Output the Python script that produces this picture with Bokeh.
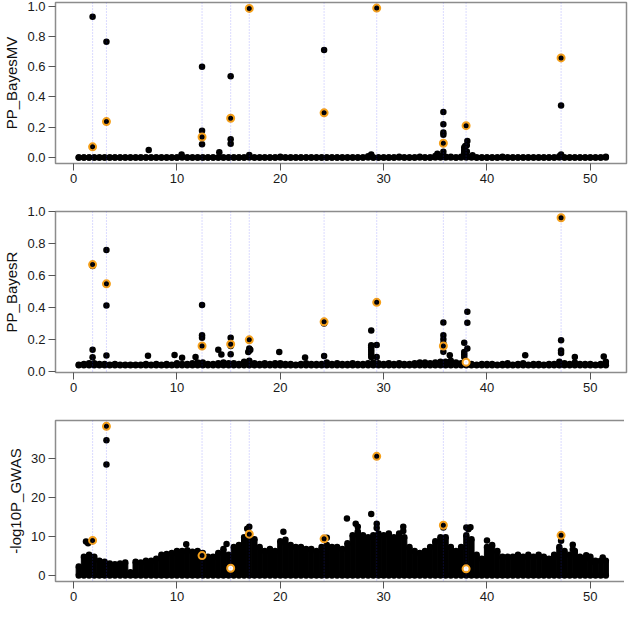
from bokeh.plotting import figure
from bokeh.layouts import column
from bokeh.models import Range1d, FixedTicker, PrintfTickFormatter, Span
from bokeh.embed import file_html
from bokeh.resources import INLINE

# ---------------- data ----------------
# positions (Mb) of highlighted loci (dotted lines)
loci = [1.84, 3.18, 12.43, 15.2, 17.0, 24.24, 29.33, 35.78, 37.98, 47.17]

# highlighted (orange) values per panel at each locus
mv_hi = [0.07, 0.237, 0.135, 0.259, 0.985, 0.295, 0.987, 0.094, 0.21, 0.658]
r_hi = [0.669, 0.548, 0.158, 0.17, 0.197, 0.31, 0.432, 0.158, 0.057, 0.963]
gwas_hi = [9.0, 38.3, 5.1, 1.85, 10.6, 9.4, 30.6, 12.9, 1.7, 10.3]
# whether the highlighted SNP is drawn filled (True) or open (False)
mv_hi_filled = [True] * 10
r_hi_filled = [True, True, True, True, True, True, True, True, False, True]
gwas_hi_filled = [True, True, True, False, True, True, True, True, False, True]

# background bins (Mb) and upper envelope of the dense SNP cloud
bins = [0.5, 1.0, 1.5, 2.0, 2.5, 3.0, 3.5, 4.0, 4.5, 5.0, 5.5, 6.0, 6.5, 7.0, 7.5,
        8.0, 8.5, 9.0, 9.5, 10.0, 10.5, 11.0, 11.5, 12.0, 12.5, 13.0, 13.5, 14.0,
        14.5, 15.0, 15.5, 16.0, 16.5, 17.0, 17.5, 18.0, 18.5, 19.0, 19.5, 20.0,
        20.5, 21.0, 21.5, 22.0, 22.5, 23.0, 23.5, 24.0, 24.5, 25.0, 25.5, 26.0,
        26.5, 27.0, 27.5, 28.0, 28.5, 29.0, 29.5, 30.0, 30.5, 31.0, 31.5, 32.0,
        32.5, 33.0, 33.5, 34.0, 34.5, 35.0, 35.5, 36.0, 36.5, 37.0, 37.5, 38.0,
        38.5, 39.0, 39.5, 40.0, 40.5, 41.0, 41.5, 42.0, 42.5, 43.0, 43.5, 44.0,
        44.5, 45.0, 45.5, 46.0, 46.5, 47.0, 47.5, 48.0, 48.5, 49.0, 49.5, 50.0,
        50.5, 51.0, 51.5]

mv_env = [0, 0, 0, 0, 0, 0, 0, 0, 0, 0, 0, 0, 0, 0, 0,
          0, 0, 0, 0, 0, 0.005, 0, 0, 0, 0, 0, 0, 0,
          0, 0, 0, 0, 0, 0.005, 0, 0, 0, 0, 0, 0.005,
          0, 0, 0, 0, 0, 0, 0, 0, 0, 0, 0, 0,
          0, 0, 0, 0, 0.008, 0, 0, 0, 0, 0, 0.005, 0,
          0, 0, 0.005, 0, 0, 0.01, 0.008, 0.005, 0.005, 0, 0.005, 0.01,
          0.008, 0, 0, 0, 0, 0, 0.005, 0, 0, 0, 0, 0,
          0, 0, 0, 0, 0, 0.008, 0, 0, 0, 0, 0, 0,
          0, 0, 0.005]

r_floor = 0.038
r_env = [0.04, 0.045, 0.05, 0.05, 0.045, 0.045, 0.04, 0.045, 0.04, 0.04, 0.04,
         0.04, 0.04, 0.045, 0.04, 0.045, 0.04, 0.045, 0.04, 0.05, 0.045, 0.045,
         0.05, 0.055, 0.055, 0.045, 0.045, 0.05, 0.055, 0.05, 0.05, 0.045, 0.06,
         0.065, 0.05, 0.045, 0.05, 0.045, 0.05, 0.05, 0.045, 0.045, 0.04, 0.045,
         0.05, 0.045, 0.045, 0.045, 0.055, 0.045, 0.05, 0.045, 0.045, 0.05,
         0.045, 0.045, 0.05, 0.055, 0.05, 0.045, 0.05, 0.045, 0.05, 0.045, 0.045,
         0.05, 0.055, 0.055, 0.05, 0.055, 0.06, 0.06, 0.065, 0.055, 0.05, 0.045,
         0.045, 0.04, 0.045, 0.045, 0.045, 0.04, 0.045, 0.05, 0.04, 0.045, 0.05,
         0.04, 0.045, 0.045, 0.04, 0.045, 0.045, 0.06, 0.05, 0.045, 0.055, 0.045,
         0.045, 0.045, 0.04, 0.045, 0.06]

gwas_env = [2.3, 4.8, 5.3, 4.8, 3.8, 3.5, 3.1, 2.9, 3.1, 3.3, 0.8, 3.5, 3.3, 3.8,
            3.8, 4.3, 5.3, 5.5, 5.8, 6.3, 6.3, 6.5, 6.1, 6.3, 5.8, 4.8, 4.8, 5.8,
            6.8, 5.3, 7.3, 7.8, 9.8, 10.8, 9.3, 7.3, 6.3, 6.8, 6.3, 8.8, 8.3, 7.8,
            7.3, 7.3, 6.8, 6.8, 6.3, 7.3, 7.8, 7.3, 7.3, 6.8, 8.3, 10.3, 11.3,
            10.3, 9.8, 10.3, 10.8, 10.3, 10.8, 9.8, 10.8, 9.8, 7.3, 6.3, 5.8, 6.3,
            7.3, 8.8, 9.8, 9.8, 7.3, 6.3, 7.3, 10.3, 9.3, 5.3, 4.3, 7.3, 7.8, 6.3,
            4.8, 4.8, 4.8, 5.3, 4.8, 5.3, 4.8, 5.3, 4.8, 4.3, 5.3, 7.3, 6.3, 5.3,
            6.3, 4.8, 4.3, 4.8, 3.8, 3.8, 3.8]

# individual SNPs standing out of the cloud
mv_x = [1.84, 3.18, 7.27, 10.45, 12.43, 12.43, 12.43, 14.1, 15.2, 15.2, 15.2,
        17.0, 24.24, 28.8, 35.2, 35.78, 35.78, 35.78, 35.78, 35.78, 37.8, 37.8,
        37.8, 37.8, 37.9, 37.9, 38.05, 38.05, 38.1, 38.6, 47.17, 47.17]
mv_y = [0.93, 0.765, 0.049, 0.02, 0.60, 0.177, 0.088, 0.034, 0.536, 0.12, 0.09,
        0.017, 0.71, 0.02, 0.025, 0.30, 0.22, 0.165, 0.15, 0.038, 0.02, 0.035,
        0.05, 0.065, 0.03, 0.075, 0.04, 0.08, 0.109, 0.015, 0.344, 0.02]

r_x = [1.84, 1.84, 1.84, 3.18, 3.18, 3.18, 7.2, 9.77, 10.5, 11.8, 12.43, 12.43,
       12.43, 14.0, 14.3, 15.2, 15.2, 15.2, 17.0, 17.0, 16.9, 17.1, 19.9, 22.4,
       24.24, 24.24, 28.8, 28.8, 28.8, 28.8, 28.8, 28.8, 28.8, 29.33, 29.33,
       35.78, 35.78, 35.78, 35.78, 35.78, 36.4, 37.8, 37.8, 37.8, 37.8, 38.1,
       38.1, 38.1, 43.7, 47.17, 47.17, 47.17, 48.5, 51.3]
r_y = [0.66, 0.135, 0.088, 0.76, 0.412, 0.098, 0.097, 0.102, 0.085, 0.09, 0.416,
       0.225, 0.21, 0.134, 0.105, 0.21, 0.158, 0.107, 0.142, 0.128, 0.12, 0.135,
       0.12, 0.086, 0.30, 0.095, 0.256, 0.163, 0.15, 0.135, 0.12, 0.105, 0.09,
       0.165, 0.09, 0.305, 0.226, 0.2, 0.175, 0.122, 0.10, 0.179, 0.12, 0.105,
       0.09, 0.373, 0.304, 0.142, 0.1, 0.195, 0.13, 0.115, 0.09, 0.093]

gwas_x = [1.2, 1.4, 3.18, 3.18, 10.9, 14.8, 16.8, 17.0, 20.3, 20.5, 24.5, 26.45,
          27.3, 27.5, 28.8, 29.33, 29.33, 31.9, 31.9, 35.78, 38.0, 38.2, 38.4,
          40.0, 47.17, 48.3, 48.3, 49.6, 50.3, 51.2]
gwas_y = [8.7, 8.3, 34.75, 28.5, 8.0, 8.1, 12.0, 12.5, 11.2, 9.2, 9.7, 14.6,
          13.3, 12.5, 15.8, 13.3, 12.2, 12.5, 11.4, 12.3, 12.3, 11.9, 12.4, 9.0,
          8.9, 7.9, 6.7, 5.2, 3.5, 4.6]

x_ticks = [0, 10, 20, 30, 40, 50]
pp_ticks = [0.0, 0.2, 0.4, 0.6, 0.8, 1.0]
gwas_ticks = [0, 10, 20, 30]

# ---------------- style ----------------
FONT = "Liberation Sans"
ORANGE = "#f5a01a"
BOX = "#8c8c8c"
W = 622
FRAME_W = 571
FRAME_H = 161

x_range = Range1d(-1.75, 53.5)


def make_panel(label, y_range, yticks, yfmt, top_border, env, floor,
               px, py, hi, hi_filled):
    p = figure(width=W, height=top_border + FRAME_H + 24,
               x_range=x_range, y_range=y_range,
               output_backend="svg", toolbar_location=None,
               min_border_left=W - FRAME_W - 2, min_border_right=2,
               min_border_top=top_border, min_border_bottom=24)
    p.frame_width = FRAME_W
    p.frame_height = FRAME_H
    p.grid.visible = False
    p.outline_line_color = BOX
    p.outline_line_width = 1.5
    p.background_fill_color = "white"
    p.border_fill_color = "white"

    for ax in (p.xaxis[0], p.yaxis[0]):
        ax.axis_line_color = None
        ax.major_tick_line_color = "#555555"
        ax.major_tick_out = 7
        ax.major_tick_in = 0
        ax.minor_tick_line_color = None
        ax.major_label_text_font = FONT
        ax.major_label_text_font_size = "13px"
        ax.major_label_text_color = "#1a1a1a"
        ax.major_label_standoff = 3
    p.xaxis.ticker = FixedTicker(ticks=x_ticks)
    p.yaxis.ticker = FixedTicker(ticks=yticks)
    p.yaxis.formatter = PrintfTickFormatter(format=yfmt)
    p.yaxis.axis_label = label
    p.yaxis.axis_label_text_font = FONT
    p.yaxis.axis_label_text_font_size = "15px"
    p.yaxis.axis_label_text_font_style = "normal"
    p.yaxis.axis_label_text_color = "#111111"
    p.yaxis.axis_label_standoff = 4

    floors = [floor] * len(bins)
    # dense cloud of SNPs
    p.vbar(x=bins, bottom=floors, top=env, width=0.5, fill_color="black",
           line_color="black", line_width=1)
    p.scatter(bins, env, size=6.5, fill_color="black", line_color=None)
    p.scatter(bins, floors, size=6.5, fill_color="black", line_color=None)
    # individual SNPs
    p.scatter(px, py, size=6.5, fill_color="black", line_color=None)
    # highlighted SNPs
    fills = ["black" if f else "white" for f in hi_filled]
    p.scatter(loci, hi, size=7, fill_color=fills, line_color=ORANGE,
              line_width=2)
    # dotted locus lines
    for lx in loci:
        p.add_layout(Span(location=lx, dimension="height", line_color="#3030ff",
                          line_alpha=0.35, line_dash="1 2", line_width=1))
    return p


p1 = make_panel("PP_BayesMV", Range1d(-0.04, 1.024), pp_ticks, "%.1f", 2,
                mv_env, 0.0, mv_x, mv_y, mv_hi, mv_hi_filled)
p2 = make_panel("PP_BayesR", Range1d(-0.008, 1.002), pp_ticks, "%.1f", 24,
                r_env, r_floor, r_x, r_y, r_hi, r_hi_filled)
p3 = make_panel("-log10P_GWAS", Range1d(-1.55, 39.8), gwas_ticks, "%d", 24,
                gwas_env, 0.0, gwas_x, gwas_y, gwas_hi, gwas_hi_filled)

layout = column(p1, p2, p3, spacing=0)
open("out.html", "w").write(file_html(layout, INLINE))
